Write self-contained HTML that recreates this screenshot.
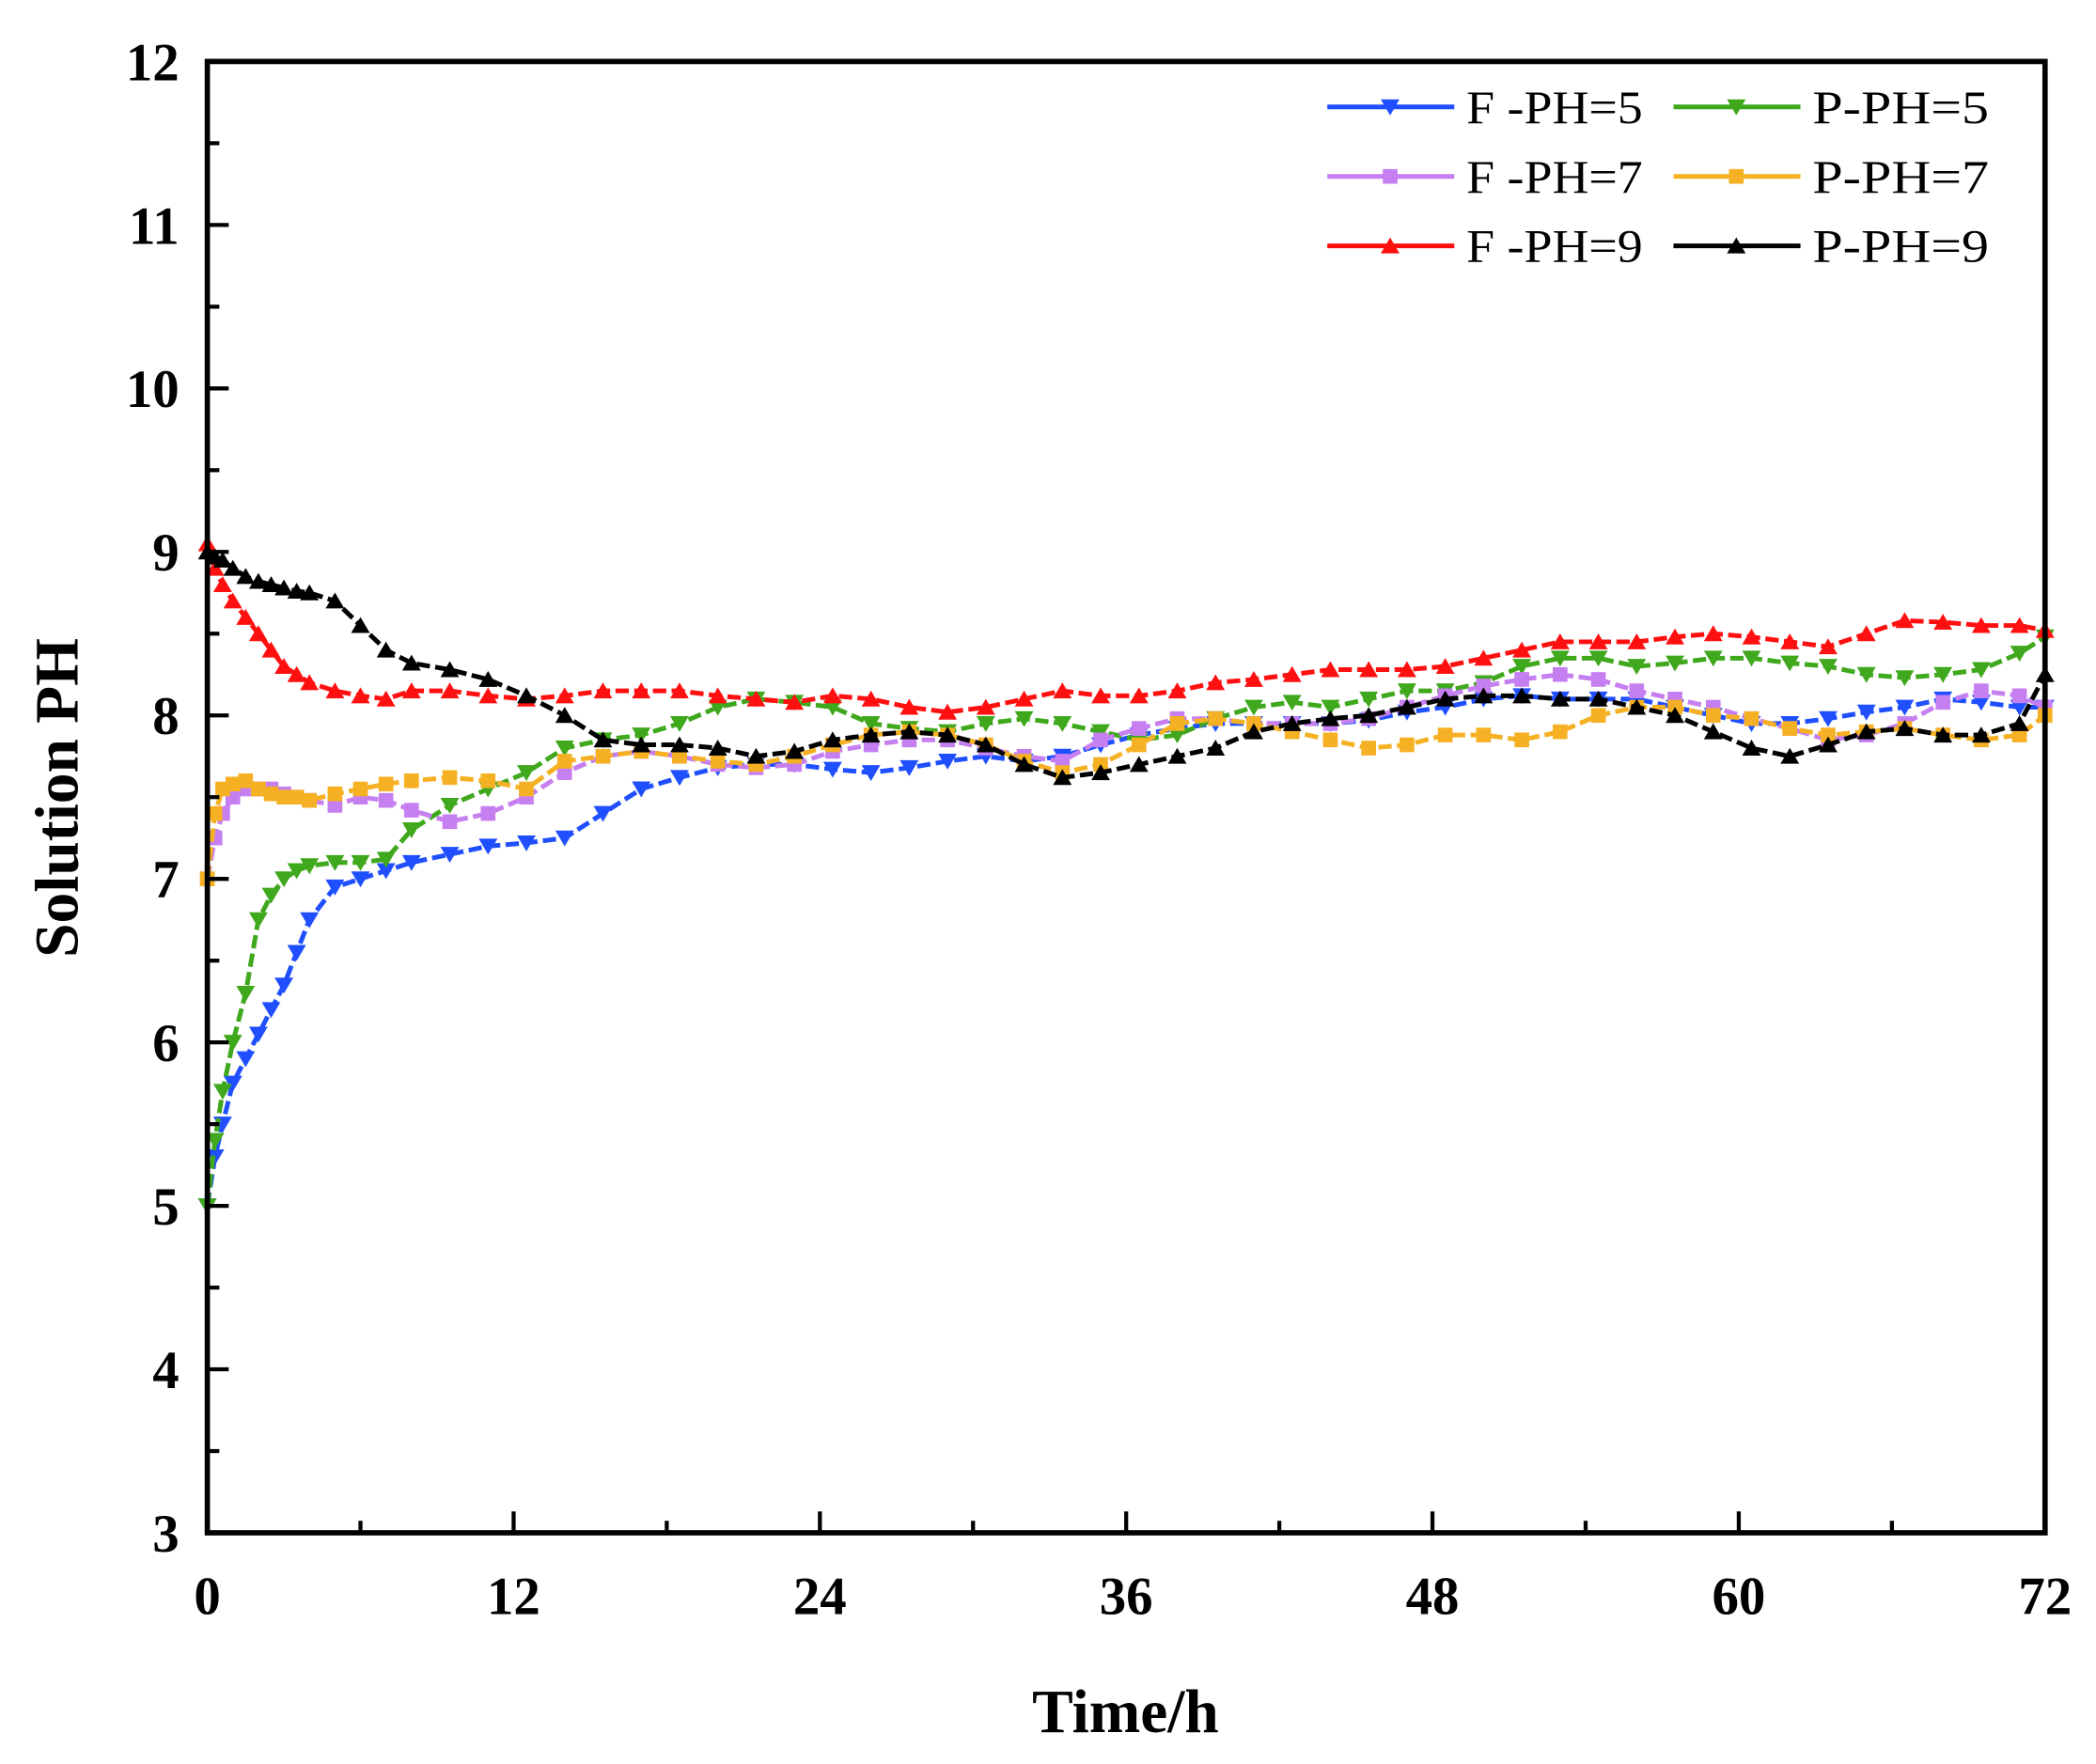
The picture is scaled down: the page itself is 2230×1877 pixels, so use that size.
<!DOCTYPE html>
<html><head><meta charset="utf-8"><style>
html,body{margin:0;padding:0;background:#fff;}
svg{display:block;}
text{font-family:"Liberation Serif",serif;}
</style></head><body>
<svg id="chart" width="2230" height="1877" viewBox="0 0 1568 1320" xmlns="http://www.w3.org/2000/svg">
<rect x="0" y="0" width="1568" height="1320" fill="#fff"/>
<g id="marks"></g>
<rect x="155" y="46" width="1375" height="1101" fill="none" stroke="#000" stroke-width="4"/>
<g id="axes"></g>
<text x="842" y="1296" font-size="46" font-weight="bold" text-anchor="middle">Time/h</text>
<text transform="translate(58,597) rotate(-90)" font-size="46" font-weight="bold" text-anchor="middle">Solution PH</text>
<g id="legend"></g>
</svg>
<script>
const T=[0,0.3,0.6,1,1.5,2,2.5,3,3.5,4,5,6,7,8,9.5,11,12.5,14,15.5,17,18.5,20,21.5,23,24.5,26,27.5,29,30.5,32,33.5,35,36.5,38,39.5,41,42.5,44,45.5,47,48.5,50,51.5,53,54.5,56,57.5,59,60.5,62,63.5,65,66.5,68,69.5,71,72];
const F5=[5.0,5.3,5.5,5.75,5.9,6.05,6.2,6.35,6.55,6.75,6.95,7.0,7.05,7.1,7.15,7.2,7.22,7.25,7.4,7.55,7.62,7.68,7.7,7.7,7.67,7.65,7.68,7.72,7.75,7.72,7.75,7.82,7.88,7.92,7.95,7.95,7.95,7.95,7.97,8.02,8.05,8.1,8.12,8.1,8.1,8.1,8.05,8.0,7.95,7.95,7.98,8.02,8.05,8.1,8.08,8.05,8.05];
const P5=[5.0,5.4,5.7,6.0,6.3,6.75,6.9,7.0,7.05,7.08,7.1,7.1,7.12,7.3,7.45,7.55,7.65,7.8,7.85,7.88,7.95,8.05,8.1,8.08,8.05,7.95,7.92,7.9,7.95,7.98,7.95,7.9,7.85,7.88,7.98,8.05,8.08,8.05,8.1,8.15,8.15,8.2,8.3,8.35,8.35,8.3,8.32,8.35,8.35,8.32,8.3,8.25,8.23,8.25,8.28,8.38,8.48];
const F7=[7.0,7.25,7.4,7.5,7.55,7.55,7.55,7.52,7.5,7.48,7.45,7.5,7.48,7.42,7.35,7.4,7.5,7.65,7.75,7.78,7.75,7.7,7.68,7.7,7.78,7.82,7.85,7.85,7.8,7.75,7.72,7.85,7.92,7.98,7.98,7.95,7.95,7.95,7.98,8.05,8.12,8.18,8.22,8.25,8.22,8.15,8.1,8.05,7.98,7.92,7.85,7.88,7.95,8.08,8.15,8.12,8.05];
const P7=[7.0,7.4,7.55,7.58,7.6,7.55,7.52,7.5,7.5,7.48,7.52,7.55,7.58,7.6,7.62,7.6,7.55,7.72,7.75,7.78,7.75,7.72,7.7,7.75,7.82,7.88,7.9,7.88,7.82,7.72,7.65,7.7,7.82,7.95,7.98,7.95,7.9,7.85,7.8,7.82,7.88,7.88,7.85,7.9,8.0,8.05,8.05,8.0,7.98,7.92,7.88,7.9,7.92,7.88,7.85,7.88,8.0];
const F9=[9.05,8.9,8.8,8.7,8.6,8.5,8.4,8.3,8.25,8.2,8.15,8.12,8.1,8.15,8.15,8.12,8.1,8.12,8.15,8.15,8.15,8.12,8.1,8.08,8.12,8.1,8.05,8.02,8.05,8.1,8.15,8.12,8.12,8.15,8.2,8.22,8.25,8.28,8.28,8.28,8.3,8.35,8.4,8.45,8.45,8.45,8.48,8.5,8.48,8.45,8.42,8.5,8.58,8.57,8.55,8.55,8.52];
const P9=[9.0,8.97,8.95,8.9,8.85,8.82,8.8,8.78,8.76,8.75,8.7,8.55,8.4,8.32,8.28,8.22,8.12,8.0,7.85,7.82,7.82,7.8,7.75,7.78,7.85,7.88,7.9,7.88,7.82,7.7,7.62,7.65,7.7,7.75,7.8,7.9,7.95,7.98,8.0,8.05,8.1,8.12,8.12,8.1,8.1,8.05,8.0,7.9,7.8,7.75,7.82,7.9,7.92,7.88,7.88,7.95,8.25];
const xTicks=[0,12,24,36,48,60,72];
const yTicks=[3,4,5,6,7,8,9,10,11,12];
const seriesNames=["F -PH=5","P-PH=5","F -PH=7","P-PH=7","F -PH=9","P-PH=9"];

const NS="http://www.w3.org/2000/svg";
const X0=155,X1=1530,Y0=1147,Y1=46;
function sx(t){return X0+(t-0)/(72-0)*(X1-X0);}
function sy(v){return Y0-(v-3)/(12-3)*(Y0-Y1);}
function mk(tag,attrs,parent){const e=document.createElementNS(NS,tag);for(const k in attrs)e.setAttribute(k,attrs[k]);parent.appendChild(e);return e;}
function marker(shape,x,y,color,parent){
  const s=7;let e;
  if(shape==="down")e=mk("polygon",{points:`${x-s},${y-s*0.8} ${x+s},${y-s*0.8} ${x},${y+s*0.9}`,fill:color},parent);
  else if(shape==="up")e=mk("polygon",{points:`${x-s},${y+s*0.8} ${x+s},${y+s*0.8} ${x},${y-s*0.9}`,fill:color},parent);
  else e=mk("rect",{x:x-5.5,y:y-5.5,width:11,height:11,fill:color},parent);
  return e;
}
const specs=[
 {d:F5,c:"#1f4fff",s:"down",n:"f-ph5"},
 {d:P5,c:"#3fa81c",s:"down",n:"p-ph5"},
 {d:F7,c:"#c67ff0",s:"sq",n:"f-ph7"},
 {d:P7,c:"#f5b123",s:"sq",n:"p-ph7"},
 {d:F9,c:"#ff1010",s:"up",n:"f-ph9"},
 {d:P9,c:"#000000",s:"up",n:"p-ph9"}];
const marks=document.getElementById("marks");
specs.forEach(sp=>{
  const g=mk("g",{},marks);
  
  
  const pts=T.map((t,i)=>sx(t)+","+sy(sp.d[i])).join(" ");
  const pl=mk("polyline",{points:pts,fill:"none",stroke:sp.c,"stroke-width":3.5,"stroke-dasharray":"10,4"},g);
  
  
  T.forEach((t,i)=>{
    const m=marker(sp.s,sx(t),sy(sp.d[i]),sp.c,g);
    
    
  });
});
const axes=document.getElementById("axes");
xTicks.forEach(t=>{
  const l=mk("line",{x1:sx(t),x2:sx(t),y1:Y0,y2:Y0-16,stroke:"#000","stroke-width":3},axes);
  
  
  const tx=mk("text",{x:sx(t),y:1208,"font-size":40,"font-weight":"bold","text-anchor":"middle"},axes);
  tx.textContent=t;
  
  
});
for(let t=6;t<72;t+=12){
  const l=mk("line",{x1:sx(t),x2:sx(t),y1:Y0,y2:Y0-9,stroke:"#000","stroke-width":3},axes);
  
  
}
yTicks.forEach(v=>{
  const l=mk("line",{x1:X0,x2:X0+16,y1:sy(v),y2:sy(v),stroke:"#000","stroke-width":3},axes);
  
  
  const tx=mk("text",{x:134,y:sy(v)+14,"font-size":40,"font-weight":"bold","text-anchor":"end"},axes);
  tx.textContent=v;
  
  
});
for(let v=3.5;v<12;v+=1){
  const l=mk("line",{x1:X0,x2:X0+9,y1:sy(v),y2:sy(v),stroke:"#000","stroke-width":3},axes);
  
  
}
const leg=document.getElementById("legend");
const order=[0,1,2,3,4,5];
order.forEach((k,i)=>{
  const col=i%2,row=Math.floor(i/2);
  const lx=col?1252:993,ly=80+row*52;
  const sp=specs[k];
  const g=mk("g",{},leg);
  
  
  mk("line",{x1:lx,x2:lx+95,y1:ly,y2:ly,stroke:sp.c,"stroke-width":3.5},g);
  marker(sp.s,lx+47,ly,sp.c,g);
  const tx=mk("text",{x:lx+104,y:ly+12,"font-size":35,"textLength":132,"lengthAdjust":"spacingAndGlyphs"},g);
  tx.textContent=seriesNames[k];
});
</script>
</body></html>
